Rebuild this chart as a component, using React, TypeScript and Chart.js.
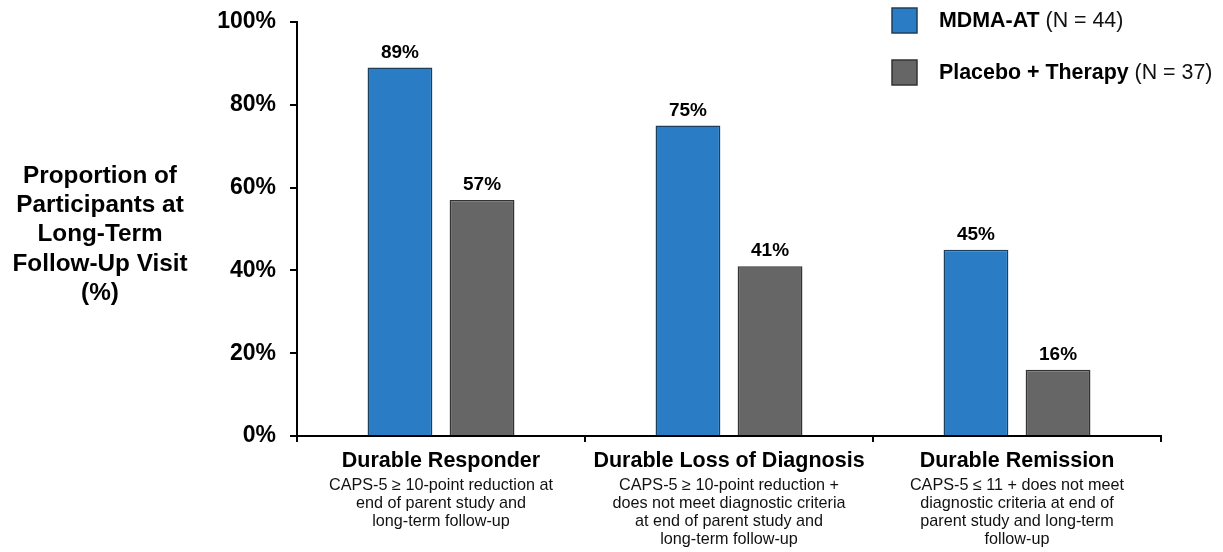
import React, { useEffect, useRef } from "react";
import { Chart, registerables } from "chart.js";

Chart.register(...registerables);

const FONT = "'Liberation Sans', Arial, Helvetica, sans-serif";

const categories = ["Durable Responder", "Durable Loss of Diagnosis", "Durable Remission"];
const categoryNotes = [
  ["CAPS-5 \u2265 10-point reduction at", "end of parent study and", "long-term follow-up"],
  [
    "CAPS-5 \u2265 10-point reduction +",
    "does not meet diagnostic criteria",
    "at end of parent study and",
    "long-term follow-up",
  ],
  [
    "CAPS-5 \u2264 11 + does not meet",
    "diagnostic criteria at end of",
    "parent study and long-term",
    "follow-up",
  ],
];
const mdmaValues = [89, 75, 45];
const placeboValues = [57, 41, 16];
const seriesNames = ["MDMA-AT", "Placebo + Therapy"];
const seriesCounts = ["(N = 44)", "(N = 37)"];
const yTicks = [0, 20, 40, 60, 80, 100];
const yTitleLines = ["Proportion of", "Participants at", "Long-Term", "Follow-Up Visit", "(%)"];

const BLUE = "#2a7dc4";
const BLUE_EDGE = "#1d3f5e";
const GRAY = "#666666";
const GRAY_EDGE = "#333333";

const annotations = {
  id: "annotations",
  afterDatasetsDraw(chart: any) {
    const { ctx, chartArea } = chart;
    ctx.save();

    // value labels above bars
    ctx.fillStyle = "#000";
    ctx.font = `bold 19px ${FONT}`;
    ctx.textAlign = "center";
    ctx.textBaseline = "alphabetic";
    chart.data.datasets.forEach((ds: any, di: number) => {
      const meta = chart.getDatasetMeta(di);
      meta.data.forEach((bar: any, i: number) => {
        ctx.fillText(`${ds.data[i]}%`, bar.x, bar.y - 10);
      });
    });

    // category labels with descriptions
    const xScale = chart.scales.x;
    categories.forEach((cat, i) => {
      const cx = xScale.getPixelForValue(i);
      ctx.font = `bold 21.5px ${FONT}`;
      ctx.textBaseline = "middle";
      ctx.fillStyle = "#000";
      ctx.fillText(cat, cx, chartArea.bottom + 25);
      ctx.font = `16.2px ${FONT}`;
      ctx.fillStyle = "#111";
      categoryNotes[i].forEach((line, li) => {
        ctx.fillText(line, cx, chartArea.bottom + 50 + li * 18);
      });
    });

    // y-axis title
    ctx.font = `bold 24.3px ${FONT}`;
    ctx.fillStyle = "#000";
    ctx.textAlign = "center";
    ctx.textBaseline = "middle";
    yTitleLines.forEach((line, li) => {
      ctx.fillText(line, 100, 176 + li * 29.3);
    });

    // legend
    const colors = [
      [BLUE, BLUE_EDGE],
      [GRAY, GRAY_EDGE],
    ];
    seriesNames.forEach((name, i) => {
      const y = 20 + i * 52;
      ctx.fillStyle = colors[i][0];
      ctx.strokeStyle = colors[i][1];
      ctx.lineWidth = 1.5;
      ctx.fillRect(892, y - 12, 25, 25);
      ctx.strokeRect(892, y - 12, 25, 25);
      ctx.textAlign = "left";
      ctx.font = `bold 21.4px ${FONT}`;
      ctx.fillStyle = "#000";
      ctx.fillText(name, 939, y + 1);
      const w = ctx.measureText(name + " ").width;
      ctx.font = `21.4px ${FONT}`;
      ctx.fillStyle = "#111";
      ctx.fillText(seriesCounts[i], 939 + w, y + 1);
    });

    ctx.restore();
  },
};

export default function App() {
  const canvasRef = useRef<HTMLCanvasElement | null>(null);

  useEffect(() => {
    if (!canvasRef.current) return;
    const chart = new Chart(canvasRef.current, {
      type: "bar",
      data: {
        labels: categories,
        datasets: [
          {
            label: seriesNames[0],
            data: mdmaValues,
            backgroundColor: BLUE,
            borderColor: BLUE_EDGE,
            borderWidth: 1.5,
            categoryPercentage: 0.57,
            barPercentage: 0.79,
          },
          {
            label: seriesNames[1],
            data: placeboValues,
            backgroundColor: GRAY,
            borderColor: GRAY_EDGE,
            borderWidth: 1.5,
            categoryPercentage: 0.57,
            barPercentage: 0.79,
          },
        ],
      },
      options: {
        animation: false,
        responsive: false,
        maintainAspectRatio: false,
        layout: { padding: { left: 0, right: 62, top: 22, bottom: 110 } },
        plugins: {
          legend: { display: false },
          tooltip: { enabled: false },
        },
        scales: {
          x: {
            offset: true,
            grid: {
              offset: true,
              drawOnChartArea: false,
              drawTicks: true,
              tickLength: 6,
              color: "#000",
              lineWidth: 2,
            },
            border: { display: true, color: "#000", width: 2 },
            ticks: { display: false },
          },
          y: {
            min: 0,
            max: 100,
            afterBuildTicks: (scale: any) => {
              scale.ticks = yTicks.map((v) => ({ value: v }));
            },
            afterFit: (scale: any) => {
              scale.width = 297;
              scale.paddingTop = 0;
              scale.paddingBottom = 0;
            },
            grid: {
              drawOnChartArea: false,
              drawTicks: true,
              tickLength: 7,
              color: "#000",
              lineWidth: 2,
            },
            border: { display: true, color: "#000", width: 2 },
            ticks: {
              color: "#000",
              padding: 14,
              font: { family: FONT, size: 23, weight: "bold" },
              callback: (v: any) => `${v}%`,
            },
          },
        },
      },
      plugins: [annotations],
    });
    return () => chart.destroy();
  }, []);

  return (
    <div style={{ position: "fixed", left: 0, top: 0, width: 1223, height: 552, background: "#fff" }}>
      <canvas ref={canvasRef} width={1223} height={552} />
    </div>
  );
}
